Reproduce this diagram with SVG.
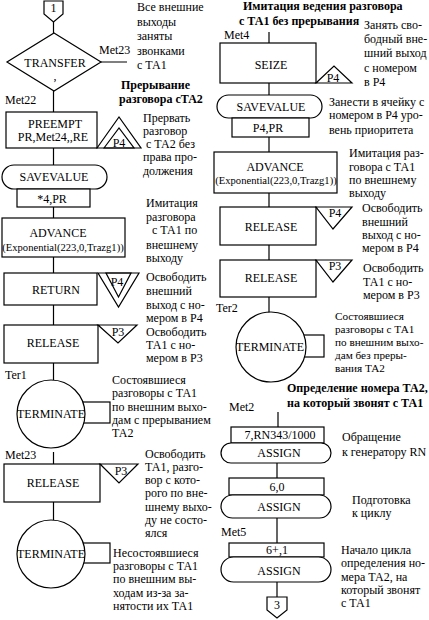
<svg xmlns="http://www.w3.org/2000/svg" width="429" height="620" viewBox="0 0 429 620">
<style>
.s{fill:none;stroke:#000;stroke-width:1.2}
.w{fill:#fff;stroke:#000;stroke-width:1.2}
text{font-family:"Liberation Serif","Times New Roman",serif;font-size:12px;fill:#000}
.c{text-anchor:middle}
.sm{font-size:10.6px}
.b{font-weight:bold}
.n{font-size:11.2px}
</style>
<rect width="429" height="620" fill="#fff"/>
<g id="connectors" class="s">
<path d="M53.5 22V33M101 62H127M53.5 91V112M53.5 148V165M53.5 207V218M53.5 257V273M53.5 305V325M53.5 363V380M53.5 452V464M53.5 502V520"/>
<path d="M269 32V43M269 83V95M269 137V152M269 193V207M269 245V260M269 297V313"/>
<path d="M278 412V427M277 463V478M277 518V543M277 582V597"/>
</g>
<g id="conn1"><polygon class="w" points="44,1 63,1 63,14 53.5,22 44,14"/><text class="c" x="53.5" y="12" font-size="11">1</text></g>
<g id="transfer"><polygon class="w" points="54,33 101,62 54,91 7,62"/><text class="c" x="55" y="67">TRANSFER</text><text class="c" x="55" y="80">,</text><text x="99" y="54">Met23</text></g>
<g id="preempt"><rect class="w" x="6" y="112" width="91" height="36"/><text class="c" x="55" y="128">PREEMPT</text><text class="c" x="53" y="141">PR,Met24,,RE</text><text x="5" y="104">Met22</text>
<polygon class="s" points="97,148 119,117 141,148"/><polygon class="s" points="104,148 119,128 134,148"/><text class="c" x="119" y="147" font-size="11">P4</text></g>
<g id="savevalue1"><rect class="w" x="2" y="165" width="105" height="24" rx="12"/><text class="c" x="54" y="181">SAVEVALUE</text><rect class="w" x="17" y="189" width="73" height="18"/><text class="c" x="52" y="203">*4,PR</text></g>
<g id="advance1"><rect class="w" x="2" y="218" width="123" height="39"/><text class="c" x="58" y="237">ADVANCE</text><text class="c sm" x="63" y="251">(Exponential(223,0,Trazg1))</text></g>
<g id="return"><rect class="w" x="4" y="273" width="93" height="32"/><text class="c" x="56" y="294">RETURN</text>
<polygon class="s" points="98,273 139,273 118.5,307"/><polygon class="s" points="106,273 131,273 118.5,297"/><text class="c" x="117" y="286" font-size="11">P4</text></g>
<g id="release1"><rect class="w" x="4" y="325" width="94" height="38"/><text class="c" x="53" y="347">RELEASE</text>
<polygon class="s" points="98,325 137,325 118,343"/><text class="c" x="118" y="336" font-size="11">P3</text></g>
<g id="terminate1"><rect class="s" x="80" y="402" width="30" height="21"/><circle class="w" cx="51" cy="414" r="34"/><text class="c" x="51" y="418">TERMINATE</text><text x="5" y="379">Ter1</text></g>
<g id="release2"><text x="5" y="459">Met23</text><rect class="w" x="4" y="464" width="96" height="38"/><text class="c" x="53" y="487">RELEASE</text>
<polygon class="s" points="100,464 138,464 119,483"/><text class="c" x="121" y="475" font-size="11">P3</text></g>
<g id="terminate2"><rect class="s" x="80" y="543" width="30" height="20"/><circle class="w" cx="51" cy="554" r="34"/><text class="c" x="51" y="558">TERMINATE</text></g>
<g id="seize"><text x="224" y="39">Met4</text><rect class="w" x="220" y="43" width="96" height="40"/><text class="c" x="271" y="69">SEIZE</text>
<polygon class="s" points="316,83 352,83 334,66"/><text class="c" x="333" y="82">P4</text></g>
<g id="savevalue2"><rect class="w" x="217" y="95" width="105" height="23" rx="11.5"/><text class="c" x="271" y="111">SAVEVALUE</text><rect class="w" x="232" y="118" width="77" height="19"/><text class="c" x="268" y="132">P4,PR</text></g>
<g id="advance2"><rect class="w" x="214" y="152" width="123" height="41"/><text class="c" x="275" y="171">ADVANCE</text><text class="c sm" x="276" y="184">(Exponential(223,0,Trazg1))</text></g>
<g id="release3"><rect class="w" x="220" y="207" width="96" height="38"/><text class="c" x="271" y="231">RELEASE</text>
<polygon class="s" points="316,207 352,207 333,229"/><text class="c" x="335" y="217" font-size="11">P4</text></g>
<g id="release4"><rect class="w" x="220" y="260" width="96" height="37"/><text class="c" x="271" y="282">RELEASE</text>
<polygon class="s" points="316,260 352,260 333,282"/><text class="c" x="335" y="270" font-size="11">P3</text></g>
<g id="terminate3"><text x="216" y="312">Ter2</text><rect class="s" x="300" y="335" width="24" height="22"/><circle class="w" cx="271" cy="347" r="35"/><text class="c" x="270" y="351">TERMINATE</text></g>
<g id="assign1"><text x="229" y="411">Met2</text><rect class="w" x="231" y="427" width="93" height="16"/><text class="c" x="280" y="439">7,RN343/1000</text><rect class="w" x="221" y="443" width="110" height="20" rx="10"/><text class="c" x="279" y="457">ASSIGN</text></g>
<g id="assign2"><rect class="w" x="229" y="478" width="95" height="17"/><text class="c" x="277" y="491">6,0</text><rect class="w" x="221" y="495" width="110" height="23" rx="11.5"/><text class="c" x="279" y="511">ASSIGN</text></g>
<g id="assign3"><text x="221" y="536">Met5</text><rect class="w" x="229" y="543" width="95" height="14"/><text class="c" x="277" y="554">6+,1</text><rect class="w" x="221" y="557" width="110" height="25" rx="12.5"/><text class="c" x="279" y="575">ASSIGN</text></g>
<g id="conn3"><polygon class="w" points="267,597 287,597 287,610 277,618 267,610"/><text class="c" x="277" y="609" font-size="11">3</text></g>
<g id="notes">
<text x="137" y="11">Все внешние</text><text x="137" y="26">выходы</text><text x="137" y="40">заняты</text><text x="137" y="55">звонками</text><text x="137" y="69"> с ТА1</text>
<text class="b" x="121" y="89">Прерывание</text><text class="b" x="119" y="103">разговора сТА2</text>
<text x="143" y="122">Прервать</text><text x="143" y="135">разговор</text><text x="146" y="148">с ТА2 без</text><text x="143" y="161">права про-</text><text x="143" y="175">должения</text>
<text x="146" y="207">Имитация</text><text x="146" y="221">разговора</text><text x="152" y="234">с ТА1 по</text><text x="146" y="249">внешнему</text><text x="146" y="262">выходу</text>
<text x="146" y="281">Освободить</text><text x="146" y="295">внешний</text><text x="146" y="309">выход с но-</text><text x="146" y="322">мером в Р4</text>
<text x="146" y="336">Освободить</text><text x="146" y="349">ТА1 с но-</text><text x="146" y="362">мером в Р3</text>
<text x="112" y="384">Состоявшиеся</text><text x="112" y="397">разговоры с ТА1</text><text x="112" y="411">по внешним выхо-</text><text x="112" y="424">дам с прерыванием</text><text x="112" y="437">ТА2</text>
<text x="145" y="458">Освободить</text><text x="145" y="471">ТА1, разго-</text><text x="145" y="484">вор с кото-</text><text x="145" y="497">рого по вне-</text><text x="145" y="511">шнему выхо-</text><text x="145" y="524">ду не состо-</text><text x="145" y="537">ялся</text>
<text x="113" y="557">Несостоявшиеся</text><text x="113" y="570">разговоры с ТА1</text><text x="113" y="583">по внешним вы-</text><text x="113" y="597">ходам из-за за-</text><text x="113" y="610">нятости их ТА1</text>
<text class="b" x="243" y="10">Имитация ведения разговора</text><text class="b" x="239" y="25">с ТА1 без прерывания</text>
<text x="364" y="29">Занять сво-</text><text x="364" y="43">бодный вне-</text><text x="364" y="57">шний выход</text><text x="364" y="72">с номером</text><text x="364" y="86">в Р4</text>
<text x="329" y="106">Занести в ячейку с</text><text x="329" y="119">номером в Р4 уро-</text><text x="329" y="134">вень приоритета</text>
<text x="349" y="157">Имитация раз-</text><text x="349" y="171">говора  с ТА1</text><text x="349" y="184">по внешнему</text><text x="349" y="197">выходу</text>
<text x="362" y="212">Освободить</text><text x="362" y="226">внешний</text><text x="362" y="239">выход с но-</text><text x="362" y="252">мером в Р4</text>
<text x="363" y="272">Освободить</text><text x="363" y="286">ТА1 с но-</text><text x="363" y="299">мером в Р3</text>
<text class="n" x="335" y="320">Состоявшиеся</text><text class="n" x="335" y="333">разговоры с ТА1</text><text class="n" x="335" y="346">по внешним выхо-</text><text class="n" x="335" y="359">дам без преры-</text><text class="n" x="335" y="372">вания ТА2</text>
<text class="b" x="287" y="392">Определение номера ТА2,</text><text class="b" x="287" y="407">на который звонят с ТА1</text>
<text x="342" y="441">Обращение</text><text x="342" y="456">к генератору RN</text>
<text x="352" y="504">Подготовка</text><text x="352" y="517">к циклу</text>
<text x="341" y="554">Начало цикла</text><text x="341" y="567">определения но-</text><text x="341" y="581">мера ТА2, на</text><text x="341" y="594">который звонят</text><text x="341" y="607">с ТА1</text>
</g>
</svg>
